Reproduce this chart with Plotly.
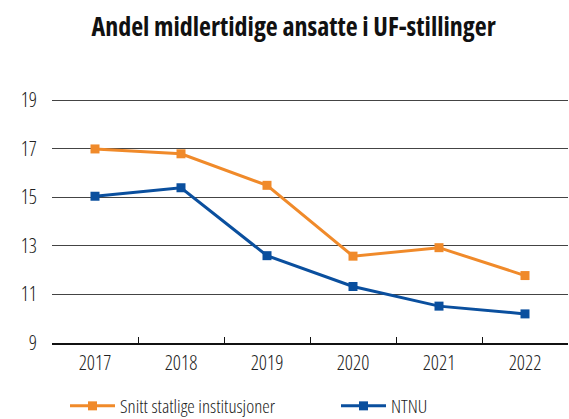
import plotly.graph_objects as go

years = ["2017", "2018", "2019", "2020", "2021", "2022"]
snitt = [17.0, 16.8, 15.5, 12.58, 12.93, 11.78]
ntnu = [15.05, 15.4, 12.6, 11.33, 10.52, 10.2]
y_ticks = [9, 11, 13, 15, 17, 19]
title = "Andel midlertidige ansatte i UF-stillinger"
names = ["Snitt statlige institusjoner", "NTNU"]

FONT = "Open Sans, sans-serif"
def cond(s, w="62.5%"):
    return f"<span style='font-stretch:{w}'>{s}</span>"

ORANGE = "#F08A2A"
BLUE = "#0A4F9E"

fig = go.Figure()
fig.add_trace(go.Scatter(
    x=years, y=snitt, name=cond(names[0]), mode="lines+markers",
    line=dict(color=ORANGE, width=3),
    marker=dict(symbol="square", size=9, color=ORANGE),
    legend="legend",
))
fig.add_trace(go.Scatter(
    x=years, y=ntnu, name=cond(names[1]), mode="lines+markers",
    line=dict(color=BLUE, width=3),
    marker=dict(symbol="square", size=9, color=BLUE),
    legend="legend2",
))

leg_common = dict(orientation="h", xanchor="left", xref="container",
                  yanchor="middle", yref="container", itemwidth=45,
                  font=dict(size=19, color="#222", weight=300),
                  bgcolor="rgba(0,0,0,0)")

fig.update_layout(
    width=569, height=419,
    margin=dict(l=52, r=1, t=98, b=76, autoexpand=False),
    paper_bgcolor="white", plot_bgcolor="white",
    font=dict(family=FONT, color="#222", size=20, weight=300),
    title=dict(text=cond(f"<b>{title}</b>"),
               x=0.516, xanchor="center", xref="container",
               y=1 - 27 / 419, yanchor="middle", yref="container",
               font=dict(family=FONT, size=26, color="#111", weight=700)),
    showlegend=True,
    legend=dict(x=65 / 569, y=1 - 406 / 419, **leg_common),
    legend2=dict(x=336 / 569, y=1 - 406 / 419, **leg_common),
    xaxis=dict(type="category", range=[-0.5, 5.5], showgrid=False, automargin=False,
               tickvals=years, ticktext=[cond(y) for y in years],
               showline=True, linecolor="#111", linewidth=1.5,
               ticks="inside", tickson="boundaries", ticklen=6, tickcolor="#111",
               ticklabelstandoff=1,
               tickfont=dict(size=20, color="#222", weight=300)),
    yaxis=dict(range=[9, 19.1], tickvals=y_ticks, ticktext=[cond(str(v)) for v in y_ticks],
               showgrid=True, gridcolor="#444444", automargin=False,
               gridwidth=1.4, zeroline=False, showline=False,
               ticklabelstandoff=14, tickfont=dict(size=20, color="#222", weight=300)),
)

fig.write_html("out.html", config={"displayModeBar": False},
               post_script="document.body.style.margin='0';")
